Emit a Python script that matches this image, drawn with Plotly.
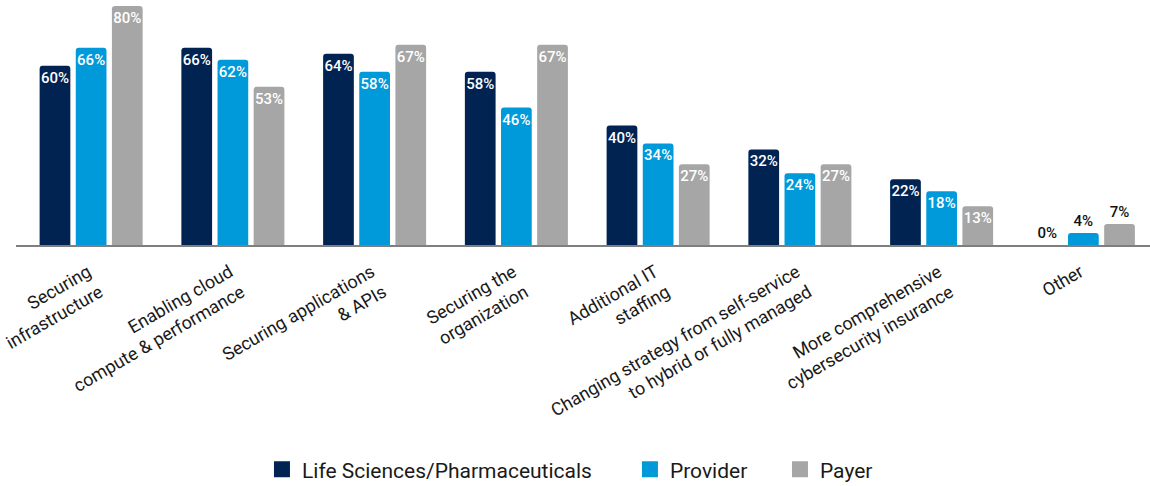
import plotly.graph_objects as go

categories = [
    "Securing<br>infrastructure",
    "Enabling cloud<br>compute & performance",
    "Securing applications<br>& APIs",
    "Securing the<br>organization",
    "Additional IT<br>staffing",
    "Changing strategy from self-service<br>to hybrid or fully managed",
    "More comprehensive<br>cybersecurity insurance",
    "Other",
]
life_sciences = [60, 66, 64, 58, 40, 32, 22, 0]
provider = [66, 62, 58, 46, 34, 24, 18, 4]
payer = [80, 53, 67, 67, 27, 27, 13, 7]

series = [
    ("Life Sciences/Pharmaceuticals", life_sciences, "#002352"),
    ("Provider", provider, "#009ADB"),
    ("Payer", payer, "#A6A6A6"),
]

FONT = "Roboto"
idx = list(range(len(categories)))

fig = go.Figure()
for name, vals, color in series:
    pos = ["outside" if i == len(categories) - 1 else "inside" for i in idx]
    fig.add_trace(go.Bar(
        x=idx, y=vals, name=name, marker_color=color,
        marker_line_width=0,
        text=[f"{v}%" for v in vals],
        textposition=pos,
        textangle=0,
        insidetextanchor="end",
        insidetextfont=dict(family=FONT, size=15, color="white", weight=500),
        outsidetextfont=dict(family=FONT, size=15, color="#111111", weight=500),
        constraintext="none",
        cliponaxis=False,
        showlegend=False,
        legendgroup=name,
    ))

# legend entries (one legend per entry, to reproduce the reference spacing)
legend_ids = ["legend", "legend2", "legend3"]
legend_x = [0.2169, 0.5414, 0.6737]
for (name, vals, color), lid in zip(series, legend_ids):
    fig.add_trace(go.Scatter(
        x=[None], y=[None], mode="markers", name=name, legendgroup=name,
        legend=lid,
        marker=dict(symbol="square", size=16, color=color),
    ))

legend_style = dict(
    orientation="h", xanchor="left", y=-0.94, yanchor="middle",
    font=dict(family=FONT, size=21, color="#1a1a1a"),
    itemwidth=30, bgcolor="rgba(0,0,0,0)",
)

fig.update_layout(
    width=1150, height=486,
    margin=dict(l=16, r=0, t=6, b=241, autoexpand=False),
    plot_bgcolor="white", paper_bgcolor="white",
    barmode="group", bargap=0.235, bargroupgap=0.15,
    barcornerradius=3,
    font=dict(family=FONT, color="#1a1a1a"),
    xaxis=dict(
        tickmode="array", tickvals=idx, ticktext=categories,
        range=[-0.53, 7.47], tickangle=-30,
        tickfont=dict(family=FONT, size=18, color="#1a1a1a"),
        ticklabeloverflow="allow", ticklabelstandoff=8, ticklabelshift=-3,
        showline=True, linecolor="#7f7f7f", linewidth=1.5,
        showgrid=False, zeroline=False, ticks="", automargin=False,
    ),
    yaxis=dict(range=[0, 80], visible=False, showgrid=False, zeroline=False),
    legend=dict(x=legend_x[0], **legend_style),
    legend2=dict(x=legend_x[1], **legend_style),
    legend3=dict(x=legend_x[2], **legend_style),
)

fig.write_html("out.html")
